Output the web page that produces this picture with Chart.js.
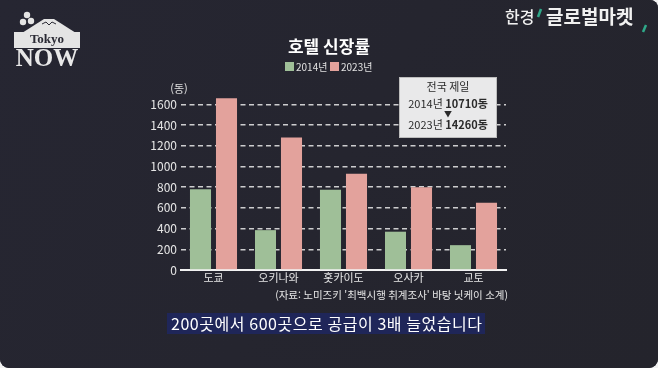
<!DOCTYPE html>
<html lang="ko">
<head>
<meta charset="utf-8">
<script src="https://cdn.jsdelivr.net/npm/chart.js@4.4.1/dist/chart.umd.min.js"></script>
<style>
  html, body { margin: 0; padding: 0; background: #f2f2f2; }
  #wrap { width: 658px; height: 368px; position: relative; background: #262630; border-radius: 0 8px 9px 9px; overflow: hidden; }
  canvas { display: block; }
</style>
</head>
<body>
<div id="wrap"><canvas id="grafico" width="658" height="368"></canvas></div>
<script>
// datos del gráfico
var categorias = ['도쿄', '오키나와', '홋카이도', '오사카', '교토'];
var hoteles2014 = [780, 385, 775, 370, 240];
var hoteles2023 = [1660, 1280, 930, 800, 650];
var ticksY = [0, 200, 400, 600, 800, 1000, 1200, 1400, 1600];
var etiquetasSerie = ['2014년', '2023년'];

var verde = '#9fbf98';
var rosa = '#e3a29c';
var fuente = '"Noto Sans CJK KR", "Noto Sans", sans-serif';

// textos y cajas alrededor del gráfico
var decoraciones = {
  id: 'decoraciones',
  beforeDraw: function (chart) {
    var ctx = chart.ctx;
    ctx.save();
    var g = ctx.createLinearGradient(0, 0, 658, 368);
    g.addColorStop(0, '#262632');
    g.addColorStop(1, '#24242c');
    ctx.fillStyle = g;
    ctx.fillRect(0, 0, 658, 368);
    ctx.restore();
  },
  afterDraw: function (chart) {
    var ctx = chart.ctx;
    ctx.save();

    // logo Tokyo NOW
    ctx.fillStyle = '#e4e4e4';
    ctx.beginPath();
    ctx.moveTo(22, 33); ctx.lineTo(44, 19); ctx.lineTo(54, 19); ctx.lineTo(76, 33);
    ctx.closePath(); ctx.fill();
    ctx.fillRect(14, 32, 66, 16);
    ctx.strokeStyle = '#2a2a34'; ctx.lineWidth = 1;
    ctx.beginPath();
    ctx.moveTo(42, 24); ctx.lineTo(46, 22); ctx.lineTo(49, 25); ctx.lineTo(52, 22); ctx.lineTo(56, 24);
    ctx.stroke();
    ctx.fillStyle = '#e4e4e4';
    [[27, 15], [31, 21], [23, 22]].forEach(function (p) {
      ctx.beginPath(); ctx.arc(p[0], p[1], 3.2, 0, Math.PI * 2); ctx.fill();
    });
    ctx.fillStyle = '#2a2a34';
    ctx.font = 'bold 13px "Liberation Serif", serif';
    ctx.textAlign = 'center'; ctx.textBaseline = 'middle';
    ctx.fillText('Tokyo', 47, 40);
    ctx.fillStyle = '#e8e8e8';
    ctx.font = 'bold 25px "Liberation Serif", serif';
    ctx.fillText('NOW', 47, 60);

    // marca arriba a la derecha
    ctx.textAlign = 'left';
    ctx.fillStyle = '#f0f0f0';
    ctx.font = '500 16px ' + fuente;
    ctx.fillText('한경', 505, 17);
    ctx.font = 'bold 19px ' + fuente;
    ctx.fillText('글로벌마켓', 546, 17);
    ctx.strokeStyle = '#2fa889';
    ctx.lineWidth = 2.5;
    ctx.beginPath(); ctx.moveTo(541, 9); ctx.lineTo(538, 17); ctx.stroke();
    ctx.beginPath(); ctx.moveTo(646, 25); ctx.lineTo(643, 32); ctx.stroke();

    // título y leyenda
    ctx.textAlign = 'center';
    ctx.fillStyle = '#ffffff';
    ctx.font = 'bold 17px ' + fuente;
    ctx.fillText('호텔 신장률', 329, 47);
    ctx.font = '10px ' + fuente;
    ctx.textAlign = 'left';
    ctx.fillStyle = verde; ctx.fillRect(285, 62, 9, 9);
    ctx.fillStyle = rosa; ctx.fillRect(330, 62, 9, 9);
    ctx.fillStyle = '#e0e0e0';
    ctx.fillText(etiquetasSerie[0], 296, 67);
    ctx.fillText(etiquetasSerie[1], 341, 67);

    // unidad del eje
    ctx.textAlign = 'center';
    ctx.font = '11px ' + fuente;
    ctx.fillStyle = '#e0e0e0';
    ctx.fillText('(동)', 179, 89);

    // caja de anotación
    ctx.fillStyle = '#e9e9ea';
    ctx.fillRect(399, 77, 98, 61);
    ctx.strokeStyle = '#bdbdbd'; ctx.lineWidth = 1;
    ctx.strokeRect(399.5, 77.5, 97, 60);
    ctx.fillStyle = '#2a2a2a';
    ctx.font = '11px ' + fuente;
    ctx.fillText('전국 제일', 448, 87);
    dibujaLinea(ctx, '2014년 ', '10710동', 448, 104);
    ctx.font = '8px ' + fuente;
    ctx.fillText('▼', 448, 114);
    dibujaLinea(ctx, '2023년 ', '14260동', 448, 125);

    // fuente de los datos
    ctx.textAlign = 'right';
    ctx.fillStyle = '#e6e6e6';
    ctx.font = '10.5px ' + fuente;
    ctx.fillText("(자료: 노미즈키 '최백시행 취계조사' 바탕 닛케이 소계)", 508, 295);

    // subtítulo
    ctx.fillStyle = '#1f2659';
    ctx.fillRect(167, 313, 318, 21);
    ctx.textAlign = 'left';
    ctx.fillStyle = '#ffffff';
    ctx.font = '16px ' + fuente;
    ctx.letterSpacing = '0.55px';
    ctx.fillText('200곳에서 600곳으로 공급이 3배 늘었습니다', 171, 323.5);
    ctx.letterSpacing = '0px';

    ctx.restore();
  }
};

function dibujaLinea(ctx, normal, negrita, cx, y) {
  ctx.font = '11px ' + fuente;
  var a = ctx.measureText(normal).width;
  ctx.font = 'bold 11px ' + fuente;
  var b = ctx.measureText(negrita).width;
  var x = cx - (a + b) / 2;
  ctx.textAlign = 'left';
  ctx.font = '11px ' + fuente;
  ctx.fillText(normal, x, y);
  ctx.font = 'bold 11px ' + fuente;
  ctx.fillText(negrita, x + a, y);
  ctx.textAlign = 'center';
}

var ctx = document.getElementById('grafico').getContext('2d');
var miGrafico = new Chart(ctx, {
  type: 'bar',
  data: {
    labels: categorias,
    datasets: [
      { label: etiquetasSerie[0], data: hoteles2014, backgroundColor: verde, barPercentage: 0.81, categoryPercentage: 0.8 },
      { label: etiquetasSerie[1], data: hoteles2023, backgroundColor: rosa, barPercentage: 0.81, categoryPercentage: 0.8 }
    ]
  },
  options: {
    responsive: false,
    animation: false,
    layout: { padding: { left: 141, right: 152, top: 94, bottom: 78 } },
    plugins: { legend: { display: false }, title: { display: false }, tooltip: { enabled: false } },
    scales: {
      x: {
        grid: { display: false, drawTicks: false },
        border: { display: true, color: '#f2f2f2', width: 2 },
        ticks: { color: '#e6e6e6', font: { family: fuente, size: 11 }, padding: 1 },
        afterFit: function (scale) { scale.height = 20; }
      },
      y: {
        min: 0,
        max: 1700,
        afterBuildTicks: function (scale) {
          scale.ticks = ticksY.map(function (v) { return { value: v }; });
        },
        afterFit: function (scale) { scale.width = 40; },
        border: { display: false, dash: [5, 3.5] },
        grid: {
          color: function (c) { return c.tick && c.tick.value === 0 ? 'rgba(0,0,0,0)' : 'rgba(235,235,235,0.85)'; },
          lineWidth: 1.5,
          drawTicks: false
        },
        ticks: {
          color: '#e6e6e6',
          font: { family: fuente, size: 12 },
          padding: 4,
          callback: function (v) { return String(v); }
        }
      }
    }
  },
  plugins: [decoraciones]
});
</script>
</body>
</html>
